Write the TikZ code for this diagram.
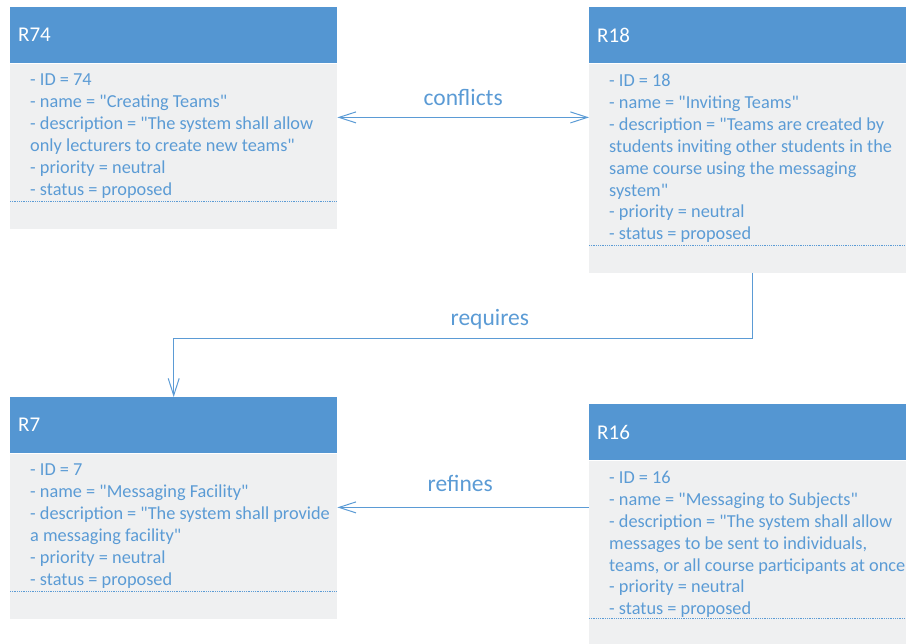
\documentclass[tikz,border=0pt]{standalone}
\usepackage{fontspec}
\setmainfont{Carlito}[Ligatures=TeXOff]
\usetikzlibrary{arrows.meta,positioning}
\definecolor{headblue}{RGB}{84,150,210}
\definecolor{textblue}{RGB}{91,155,213}
\definecolor{bodygray}{RGB}{239,240,241}

\begin{document}
\begin{tikzpicture}[x=1pt,y=-1pt,
    >={Straight Barb[length=17pt,width=11pt,line width=1pt]},
    head/.style={rectangle, fill=headblue, anchor=north west, minimum width=327pt,
      minimum height=56pt, text width=311pt, inner xsep=8pt, align=left,
      text=white, font=\fontsize{21}{25}\selectfont},
    body/.style={rectangle, fill=bodygray, minimum width=327pt, inner sep=0pt},
    attrs/.style={anchor=north west, inner sep=0pt, align=left, text=textblue,
      font=\fontsize{18.3}{21.9}\selectfont},
    sepline/.style={draw=textblue, densely dotted, line width=0.8pt},
    rel/.style={draw=textblue, line width=1.3pt},
    lbl/.style={text=textblue, inner sep=0pt, font=\fontsize{23.5}{28}\selectfont}]
        \useasboundingbox (0,0) rectangle (906,644);

        % Requirement R74
        \node[head] (r74h) at (10,7) {R74};
        \node[body, minimum height=165pt, below=0pt of r74h] (r74b) {};
        \node[attrs] (r74t) at ([xshift=20pt,yshift=-10.5pt]r74b.north west)
          {- ID = 74\\- name = "Creating Teams"\\- description = "The system shall allow\\only lecturers to create new teams"\\- priority = neutral\\- status = proposed};
        \draw[sepline] ([yshift=27pt]r74b.south west) -- ([yshift=27pt]r74b.south east);

        % Requirement R18
        \node[head] (r18h) at (589,7) {R18};
        \node[body, minimum height=209pt, below=0pt of r18h] (r18b) {};
        \node[attrs] (r18t) at ([xshift=20pt,yshift=-10.5pt]r18b.north west)
          {- ID = 18\\- name = "Inviting Teams"\\- description = "Teams are created by\\students inviting other students in the\\same course using the messaging\\system"\\- priority = neutral\\- status = proposed};
        \draw[sepline] ([yshift=27pt]r18b.south west) -- ([yshift=27pt]r18b.south east);

        % Requirement R7
        \node[head] (r7h) at (10,397) {R7};
        \node[body, minimum height=165pt, below=0pt of r7h] (r7b) {};
        \node[attrs] (r7t) at ([xshift=20pt,yshift=-10.5pt]r7b.north west)
          {- ID = 7\\- name = "Messaging Facility"\\- description = "The system shall provide\\a messaging facility"\\- priority = neutral\\- status = proposed};
        \draw[sepline] ([yshift=27pt]r7b.south west) -- ([yshift=27pt]r7b.south east);

        % Requirement R16
        \node[head] (r16h) at (589,404) {R16};
        \node[body, minimum height=185pt, below=0pt of r16h] (r16b) {};
        \node[attrs] (r16t) at ([xshift=20pt,yshift=-10.5pt]r16b.north west)
          {- ID = 16\\- name = "Messaging to Subjects"\\- description = "The system shall allow\\messages to be sent to individuals,\\teams, or all course participants at once\\- priority = neutral\\- status = proposed};
        \draw[sepline] ([yshift=27pt]r16b.south west) -- ([yshift=27pt]r16b.south east);

        % Relations
        \draw[rel, <->] ([yshift=-54pt]r74b.north east) -- node[lbl, above=11pt] (conf) {conflicts} ([yshift=-54pt]r18b.north west);
        \draw[rel, ->] (r18b.south) -- ++(0,66) -| node[lbl, pos=0.227, above=9pt] (req) {requires} (r7h.north);
        \draw[rel, ->] ([yshift=-47pt]r16b.north west) -- node[lbl, above=15pt, xshift=-3pt] (refi) {refines} ([yshift=-54pt]r7b.north east);
      \end{tikzpicture}
\end{document}
